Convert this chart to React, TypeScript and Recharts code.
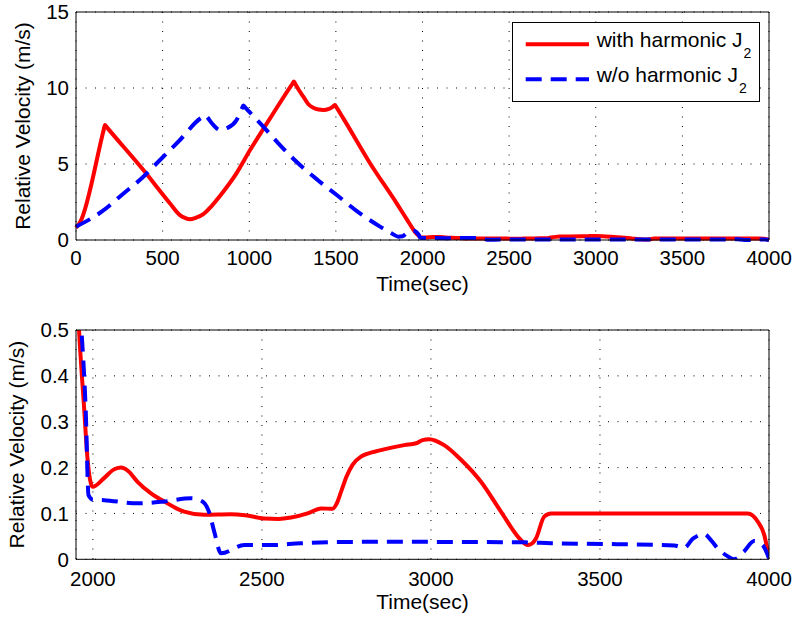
import { CartesianGrid, Legend, Line, LineChart, XAxis, YAxis } from "recharts";

// relative velocity history, sampled along each curve
const withJ2Time = [
  0, 25, 160, 167, 175, 389, 543, 600, 630, 658, 690, 735, 780, 831, 927, 1004,
  1081, 1120, 1250, 1258, 1266, 1290, 1312, 1340, 1370, 1400, 1428, 1460, 1480,
  1488, 1495, 1502, 1543, 1697, 1851, 1900, 1930, 1950, 1959, 1974, 1984, 1999,
  2033, 2060, 2083, 2105, 2132, 2170, 2211, 2270, 2329, 2408, 2450, 2507, 2550,
  2586, 2635, 2675, 2709, 2720, 2734, 2750, 2768, 2793, 2852, 2921, 2956, 2975,
  2995, 3039, 3089, 3148, 3207, 3266, 3286, 3300, 3311, 3335, 3355, 3600, 3937,
  3967, 3986, 4000,
];
const withJ2Vel = [
  0.8, 1.2, 7.26, 7.57, 7.46, 4.6, 2.4, 1.64, 1.45, 1.36, 1.45, 1.7, 2.2, 2.9,
  4.4, 5.9, 7.3, 8.0, 10.29, 10.42, 10.26, 9.8, 9.43, 8.95, 8.7, 8.58, 8.55,
  8.62, 8.75, 8.83, 8.88, 8.76, 8.0, 5.05, 2.41, 1.53, 0.99, 0.64, 0.5, 0.33,
  0.22, 0.158, 0.177, 0.195, 0.2, 0.192, 0.169, 0.145, 0.126, 0.104, 0.097,
  0.098, 0.096, 0.089, 0.088, 0.091, 0.1, 0.111, 0.11, 0.12, 0.147, 0.18,
  0.206, 0.224, 0.238, 0.249, 0.253, 0.26, 0.262, 0.249, 0.217, 0.169, 0.104,
  0.042, 0.031, 0.035, 0.046, 0.093, 0.1, 0.1, 0.1, 0.082, 0.053, 0.002,
];
const withoutJ2Time = [
  0, 148, 264, 379, 475, 600, 725, 735, 745, 755, 790, 831, 870, 927, 958, 966,
  975, 1000, 1081, 1168, 1293, 1400, 1505, 1639, 1755, 1830, 1860, 1885, 1909,
  1940, 1955, 1966, 1979, 1987, 2000, 2033, 2132, 2211, 2290, 2324, 2345, 2359,
  2379, 2448, 2527, 2615, 2800, 2980, 3276, 3355, 3550, 3720, 3749, 3775, 3808,
  3830, 3848, 3875, 3897, 3926, 3956, 3981, 4000,
];
const withoutJ2Vel = [
  0.88, 1.86, 2.96, 4.06, 5.15, 6.58, 8.05, 8.11, 8.22, 8.11, 7.6, 7.24, 7.35,
  7.9, 8.66, 8.85, 8.74, 8.44, 7.46, 6.36, 4.93, 3.9, 2.96, 1.75, 0.88, 0.38,
  0.22, 0.25, 0.44, 0.6, 0.6, 0.5, 0.32, 0.14, 0.13, 0.129, 0.122, 0.126, 0.133,
  0.126, 0.1, 0.06, 0.013, 0.031, 0.031, 0.035, 0.038, 0.038, 0.037, 0.035,
  0.033, 0.03, 0.025, 0.045, 0.055, 0.04, 0.024, 0.008, 0, 0.017, 0.04, 0.031,
  0.002,
];

const fullTimeTicks = [0, 500, 1000, 1500, 2000, 2500, 3000, 3500, 4000];
const fullVelTicks = [0, 5, 10, 15];
const tailTimeTicks = [2000, 2500, 3000, 3500, 4000];
const tailVelTicks = [0, 0.1, 0.2, 0.3, 0.4, 0.5];

const seriesNames = ["with harmonic J", "w/o harmonic J"];
const seriesSub = "2";

const withJ2 = withJ2Time.map((t, i) => ({ t, v: withJ2Vel[i] }));
const withoutJ2 = withoutJ2Time.map((t, i) => ({ t, v: withoutJ2Vel[i] }));

const FONT = '"Liberation Sans", Arial, Helvetica, sans-serif';
const RED = "#ff0000";
const BLUE = "#0000ff";
const DASH = "16 9";

function LegendBox() {
  const rows = [
    { name: seriesNames[0], color: RED, dash: undefined, y: 22.3, base: 24.7 },
    { name: seriesNames[1], color: BLUE, dash: DASH, y: 57.3, base: 59.7 },
  ];
  return (
    <svg width={248} height={80} style={{ display: "block" }}>
      <rect x={0.5} y={0.5} width={247} height={79} fill="#fff" stroke="#000" />
      {rows.map((r) => (
        <g key={r.name}>
          <line x1={13.7} x2={77} y1={r.y} y2={r.y} stroke={r.color} strokeWidth={4} strokeDasharray={r.dash} />
          <text x={84.7} y={r.base} fontSize={21} fontFamily={FONT} fill="#000">
            {r.name}
            <tspan dx={1} dy={11} fontSize={14}>{seriesSub}</tspan>
          </text>
        </g>
      ))}
    </svg>
  );
}

interface PanelProps {
  top: number;
  height: number;
  marginTop: number;
  xAxisHeight: number;
  xDomain: [number, number];
  xTicks: number[];
  yDomain: [number, number];
  yTicks: number[];
  tickGap: number;
  xLabelDy: number;
  yLabelDx: number;
  clip: boolean;
  legend?: boolean;
}

function Panel(p: PanelProps) {
  const tickFont = { fill: "#000", fontSize: 20.5, fontFamily: FONT };
  const inner = { type: "number" as const, allowDataOverflow: true, tick: false, tickSize: 7 };
  return (
    <LineChart
      width={796}
      height={p.height}
      margin={{ top: p.marginTop, right: 27, bottom: 0, left: 0 }}
      style={{ position: "absolute", left: 0, top: p.top }}
    >
      <CartesianGrid stroke="#000" strokeWidth={1} strokeDasharray="1 8.5" />
      <XAxis
        dataKey="t"
        type="number"
        domain={p.xDomain}
        ticks={p.xTicks}
        interval={0}
        allowDataOverflow={p.clip}
        height={p.xAxisHeight}
        tickLine={false}
        tickSize={0}
        tickMargin={p.tickGap}
        axisLine={{ stroke: "#000" }}
        tick={tickFont}
        label={{ value: "Time(sec)", position: "center", dy: p.xLabelDy, fill: "#000", fontSize: 21, fontFamily: FONT }}
      />
      <YAxis
        type="number"
        domain={p.yDomain}
        ticks={p.yTicks}
        interval={0}
        allowDataOverflow={p.clip}
        width={76}
        tickLine={false}
        tickSize={0}
        tickMargin={7}
        axisLine={{ stroke: "#000" }}
        tick={tickFont}
        label={{ value: "Relative Velocity (m/s)", angle: -90, position: "center", dx: p.yLabelDx, fill: "#000", fontSize: 21, fontFamily: FONT }}
      />
      {/* inward tick marks on all four sides, plus the top/right box edges */}
      <XAxis xAxisId="xin" orientation="bottom" mirror axisLine={false} domain={p.xDomain} ticks={p.xTicks} interval={0} tickLine={{ stroke: "#000" }} {...inner} />
      <XAxis xAxisId="xtop" orientation="top" mirror axisLine={{ stroke: "#000" }} domain={p.xDomain} ticks={p.xTicks} interval={0} tickLine={{ stroke: "#000" }} {...inner} />
      <YAxis yAxisId="yin" orientation="left" mirror axisLine={false} domain={p.yDomain} ticks={p.yTicks} interval={0} tickLine={{ stroke: "#000" }} {...inner} />
      <YAxis yAxisId="yright" orientation="right" mirror axisLine={{ stroke: "#000" }} domain={p.yDomain} ticks={p.yTicks} interval={0} tickLine={{ stroke: "#000" }} {...inner} />
      <Line
        data={withJ2}
        dataKey="v"
        name="with harmonic J2"
        type="monotone"
        stroke={RED}
        strokeWidth={4}
        strokeLinejoin="round"
        dot={false}
        activeDot={false}
        isAnimationActive={false}
      />
      <Line
        data={withoutJ2}
        dataKey="v"
        name="w/o harmonic J2"
        type="monotone"
        stroke={BLUE}
        strokeWidth={4}
        strokeDasharray={DASH}
        dot={false}
        activeDot={false}
        isAnimationActive={false}
      />
      {p.legend && (
        <Legend
          layout="vertical"
          align="center"
          verticalAlign="middle"
          wrapperStyle={{ left: 512, top: 22, width: 248, height: 80 }}
          content={() => <LegendBox />}
        />
      )}
    </LineChart>
  );
}

export default function App() {
  return (
    <div style={{ position: "absolute", left: 0, top: 0, width: 796, height: 617, background: "#fff" }}>
      <Panel
        top={0}
        height={300}
        marginTop={12}
        xAxisHeight={60}
        xDomain={[0, 4000]}
        xTicks={fullTimeTicks}
        yDomain={[0, 15]}
        yTicks={fullVelTicks}
        tickGap={10}
        xLabelDy={14}
        yLabelDx={-15}
        clip={false}
        legend
      />
      <Panel
        top={300}
        height={317}
        marginTop={30}
        xAxisHeight={57.7}
        xDomain={[1950, 4000]}
        xTicks={tailTimeTicks}
        yDomain={[0, 0.5]}
        yTicks={tailVelTicks}
        tickGap={12}
        xLabelDy={13}
        yLabelDx={-21}
        clip
      />
    </div>
  );
}
